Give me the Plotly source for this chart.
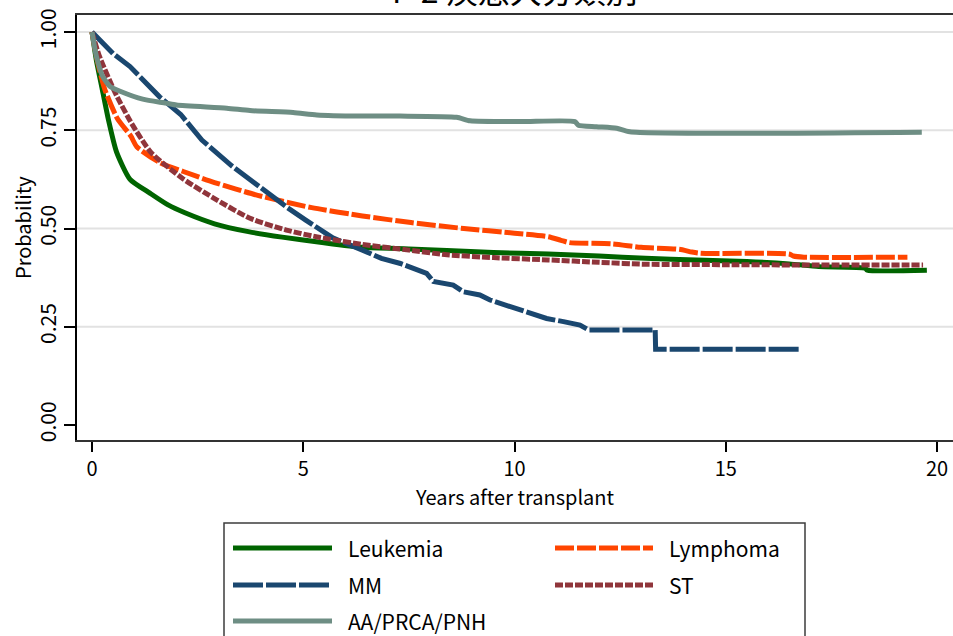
import plotly.graph_objects as go

# ---------------- data ----------------
leuk_t = [0, 0.1, 0.23, 0.39, 0.58, 0.9, 1.37, 1.8, 2.2, 2.9, 3.7, 4.5, 5.4, 6.4, 7.5, 8.4,
          9.5, 10.8, 12.0, 13.1, 14.3, 15.5, 16.5, 17.2, 18.3, 18.35, 19.76]
leuk_p = [1.0, 0.93, 0.861, 0.776, 0.695, 0.625, 0.59, 0.56, 0.54, 0.512, 0.492, 0.478, 0.465,
          0.452, 0.448, 0.444, 0.439, 0.435, 0.43, 0.424, 0.42, 0.416, 0.41, 0.403, 0.399, 0.394, 0.394]

lymph_t = [0, 0.12, 0.3, 0.6, 0.92, 1.06, 1.6, 2.16, 2.9, 3.9, 5.2, 6.4, 7.55, 8.8, 10.0, 10.8,
           11.1, 11.3, 12.3, 13.0, 13.9, 14.2, 14.4, 16.5, 16.6, 16.85, 19.3]
lymph_p = [1.0, 0.93, 0.855, 0.78, 0.735, 0.708, 0.668, 0.645, 0.617, 0.585, 0.553, 0.532, 0.515,
           0.5, 0.488, 0.479, 0.47, 0.464, 0.461, 0.452, 0.447, 0.44, 0.437, 0.435, 0.43, 0.427, 0.427]

mm_t = [0, 0.25, 0.5, 0.9, 1.6, 2.1, 2.6, 3.3, 4.0, 4.6, 5.05, 5.7, 6.4, 6.85, 7.3, 7.6, 7.92,
        8.08, 8.55, 8.79, 9.18, 9.42, 9.89, 10.29, 10.76, 11.16, 11.55, 11.75, 13.33, 13.34, 16.76]
mm_p = [1.0, 0.973, 0.945, 0.912, 0.835, 0.79, 0.725, 0.66, 0.603, 0.555, 0.522, 0.476, 0.445,
        0.424, 0.411, 0.4, 0.386, 0.365, 0.356, 0.339, 0.331, 0.318, 0.301, 0.288, 0.271, 0.263,
        0.254, 0.242, 0.242, 0.193, 0.193]

st_t = [0, 0.17, 0.55, 0.95, 1.4, 2.16, 2.95, 3.74, 4.6, 5.4, 6.5, 7.5, 8.4, 9.5, 10.8, 12.0,
        13.1, 15.0, 17.2, 19.67]
st_p = [1.0, 0.94, 0.845, 0.765, 0.693, 0.626, 0.573, 0.526, 0.496, 0.477, 0.458, 0.445, 0.433,
        0.426, 0.42, 0.414, 0.409, 0.408, 0.407, 0.407]

aa_t = [0, 0.1, 0.25, 0.43, 0.65, 1.2, 1.75, 2.0, 3.19, 3.74, 4.76, 5.32, 6.34, 7.29, 8.63, 8.95,
        10.13, 11.43, 11.51, 11.94, 12.42, 12.73, 19.64]
aa_p = [1.0, 0.94, 0.888, 0.861, 0.85, 0.829, 0.819, 0.814, 0.806, 0.80, 0.795, 0.789, 0.786,
        0.786, 0.783, 0.774, 0.772, 0.772, 0.763, 0.759, 0.755, 0.746, 0.745]

series_names = ["Leukemia", "Lymphoma", "MM", "ST", "AA/PRCA/PNH"]
x_ticks = [0, 5, 10, 15, 20]
y_ticks = [0.0, 0.25, 0.5, 0.75, 1.0]
y_ticktext = ["0.00", "0.25", "0.50", "0.75", "1.00"]
grid_vals = [0.25, 0.5, 0.75, 1.0]
title_text = "F-2 疾患大分類別"
x_title = "Years after transplant"
y_title = "Probability"

# ---------------- styles ----------------
FONT = "Noto Sans CJK JP"
styles = {
    "Leukemia": dict(color="#006400", dash="solid", shape="spline"),
    "Lymphoma": dict(color="#ff4500", dash="19px,3px", shape="spline"),
    "MM": dict(color="#1a476f", dash="30px,3px", shape="linear"),
    "ST": dict(color="#90353b", dash="8px,2px", shape="spline"),
    "AA/PRCA/PNH": dict(color="#6e8e84", dash="solid", shape="spline"),
}
LW = 5

# page body margin is removed (post_script), so page pixels == figure pixels
W, H = 953, 636
PLOT_L, PLOT_T, PLOT_B, PLOT_R = 77, 15, 440, 953
ML, MT = PLOT_L, PLOT_T
PW, PH = PLOT_R - PLOT_L, PLOT_B - PLOT_T
MR = W - ML - PW
MB = H - MT - PH


def px(xp):
    return (xp - PLOT_L) / PW


def py(yp):
    return (PLOT_B - yp) / PH


data = {
    "Leukemia": (leuk_t, leuk_p),
    "Lymphoma": (lymph_t, lymph_p),
    "MM": (mm_t, mm_p),
    "ST": (st_t, st_p),
    "AA/PRCA/PNH": (aa_t, aa_p),
}

fig = go.Figure()
for name in series_names:
    t, p = data[name]
    st = styles[name]
    line = dict(color=st["color"], width=LW, dash=st["dash"], shape=st["shape"])
    if st["shape"] == "spline":
        line["smoothing"] = 0.6
    fig.add_trace(go.Scatter(x=t, y=p, mode="lines", name=name, showlegend=False,
                             line=line, hoverinfo="skip"))

shapes = []
# gridlines
for g in grid_vals:
    shapes.append(dict(type="line", xref="paper", yref="y", x0=0, x1=1, y0=g, y1=g,
                       line=dict(color="#e2e2e2", width=2), layer="below"))

# manual legend
legend_box = dict(x0=224, x1=805, y0=523, y1=660)
shapes.append(dict(type="rect", xref="paper", yref="paper",
                   x0=px(legend_box["x0"]), x1=px(legend_box["x1"]),
                   y0=py(legend_box["y0"]), y1=py(legend_box["y1"]),
                   line=dict(color="#3c3c3c", width=1.5), fillcolor="white", layer="below"))
legend_pos = {
    "Leukemia": (233, 332, 548, 346),
    "Lymphoma": (555, 653, 548, 667),
    "MM": (233, 332, 585, 346),
    "ST": (555, 653, 585, 667),
    "AA/PRCA/PNH": (233, 332, 621, 346),
}
annotations = []
for name in series_names:
    x0, x1, yy, tx = legend_pos[name]
    st = styles[name]
    shapes.append(dict(type="line", xref="paper", yref="paper",
                       x0=px(x0), x1=px(x1), y0=py(yy), y1=py(yy),
                       line=dict(color=st["color"], width=LW, dash=st["dash"])))
    annotations.append(dict(text=name, xref="paper", yref="paper", x=px(tx), y=py(yy),
                            xanchor="left", yanchor="middle", showarrow=False,
                            font=dict(family=FONT, size=21, color="black")))

# title (cut at the top edge like the reference)
annotations.append(dict(text=title_text, xref="paper", yref="paper", x=px(515), y=py(14),
                        xanchor="center", yanchor="bottom", showarrow=False,
                        font=dict(family=FONT, size=32, color="black")))
# y-axis title
annotations.append(dict(text=y_title, xref="paper", yref="paper", x=px(22), y=py(228),
                        xanchor="center", yanchor="middle", showarrow=False, textangle=-90,
                        font=dict(family=FONT, size=20, color="black")))

fig.update_layout(
    width=W, height=H,
    margin=dict(l=ML, r=MR, t=MT, b=MB, autoexpand=False),
    paper_bgcolor="white", plot_bgcolor="white",
    font=dict(family=FONT, size=20, color="black"),
    shapes=shapes, annotations=annotations,
    showlegend=False, hovermode=False,
    xaxis=dict(range=[-15 / 42.25, (PW - 15) / 42.25], tickvals=x_ticks,
               ticks="outside", ticklen=10, tickwidth=1.5, tickcolor="black",
               showline=True, linecolor="#333333", linewidth=1.5, mirror=True,
               showgrid=False, zeroline=False, automargin=False,
               tickfont=dict(family=FONT, size=20),
               title=dict(text=x_title, font=dict(family=FONT, size=20), standoff=2)),
    yaxis=dict(range=[-15 / 393, 1 + 17 / 393], tickvals=y_ticks, ticktext=y_ticktext,
               tickangle=-90, ticks="outside", ticklen=11, tickwidth=1.5, tickcolor="black",
               showline=True, linecolor="black", linewidth=1.5, mirror=False,
               showgrid=False, zeroline=False, automargin=False, ticklabelstandoff=0,
               tickfont=dict(family=FONT, size=21)),
)

fig.write_html(
    "out.html",
    config={"displayModeBar": False},
    post_script="document.body.style.margin='0';document.body.style.overflow='hidden';",
)
